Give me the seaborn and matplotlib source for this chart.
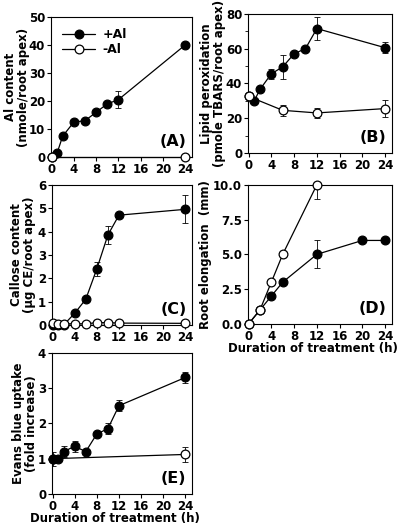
import numpy as np
import pandas as pd
import matplotlib
matplotlib.use("Agg")
import matplotlib.pyplot as plt
import seaborn as sns

sns.set_style("ticks", {"axes.edgecolor": "black", "text.color": "black",
                        "axes.labelcolor": "black", "xtick.color": "black",
                        "ytick.color": "black"})
plt.rcParams['font.family'] = ['DejaVu Sans']
plt.rcParams['font.weight'] = 'bold'

# Panel A - Al content
a_plus_h = [0, 1, 2, 4, 6, 8, 10, 12, 24]
a_plus_y = [0, 1.5, 7.5, 12.5, 13, 16, 19, 20.5, 40]
a_plus_err = [0, 0, 0, 0, 0, 0, 0, 3, 0]
a_minus_h = [0, 24]
a_minus_y = [0, 0]
a_minus_err = [0, 0]

# Panel B - lipid peroxidation
b_plus_h = [0, 1, 2, 4, 6, 8, 10, 12, 24]
b_plus_y = [32.5, 30, 36.5, 45.5, 49.5, 57, 60, 71.5, 60.5]
b_plus_err = [0, 0, 0, 3, 7, 0, 0, 6.5, 3]
b_minus_h = [0, 6, 12, 24]
b_minus_y = [32.5, 24.5, 23, 25.5]
b_minus_err = [0, 3, 3, 5]

# Panel C - callose content
c_plus_h = [0, 1, 2, 4, 6, 8, 10, 12, 24]
c_plus_y = [0, 0, 0, 0.5, 1.1, 2.4, 3.85, 4.7, 4.95]
c_plus_err = [0, 0, 0, 0, 0, 0.3, 0.4, 0, 0.6]
c_minus_h = [0, 1, 2, 4, 6, 8, 10, 12, 24]
c_minus_y = [0.08, 0.05, 0.05, 0.05, 0.05, 0.1, 0.1, 0.08, 0.07]
c_minus_err = [0, 0, 0, 0, 0, 0, 0, 0, 0]

# Panel D - root elongation
d_plus_h = [0, 2, 4, 6, 12, 20, 24]
d_plus_y = [0, 1, 2, 3, 5, 6, 6]
d_plus_err = [0, 0, 0, 0, 1, 0, 0]
d_minus_h = [0, 2, 4, 6, 12]
d_minus_y = [0, 1, 3, 5, 10]
d_minus_err = [0, 0, 0, 0, 1]

# Panel E - Evans blue uptake
e_plus_h = [0, 1, 2, 4, 6, 8, 10, 12, 24]
e_plus_y = [1, 1, 1.2, 1.35, 1.2, 1.7, 1.85, 2.5, 3.3]
e_plus_err = [0.2, 0, 0.15, 0.15, 0.05, 0, 0.15, 0.15, 0.15]
e_minus_h = [0, 24]
e_minus_y = [1, 1.12]
e_minus_err = [0, 0.2]

xticks = [0, 4, 8, 12, 16, 20, 24]
FS = 8.5


def draw(ax, h, y, err, filled, label, z):
    df = pd.DataFrame({"h": h, "y": y})
    sns.lineplot(data=df, x="h", y="y", ax=ax, color="black", lw=0.9,
                 marker="o", markersize=6.3, markeredgecolor="black",
                 markeredgewidth=0.9,
                 markerfacecolor="black" if filled else "white",
                 label=label, clip_on=False, zorder=z)
    yerr = np.array(err)
    m = yerr > 0
    if m.any():
        ax.errorbar(np.array(h)[m], np.array(y)[m], yerr=yerr[m], fmt="none",
                    ecolor="black", elinewidth=0.6, capsize=2, capthick=0.6,
                    zorder=2)


def style(ax, ylim, yticks, ylabel, tag, ylx, ytl=None, xlabel=None):
    ax.set_xlim(-0.1, 25.2)
    ax.set_ylim(*ylim)
    ax.set_xticks(xticks)
    ax.set_yticks(yticks)
    if ytl is not None:
        ax.set_yticklabels(ytl)
    ax.tick_params(labelsize=FS, width=0.8, length=3, direction="out", pad=1.2)
    for lab in ax.get_xticklabels() + ax.get_yticklabels():
        lab.set_fontweight("bold")
    for s in ax.spines.values():
        s.set_linewidth(0.8)
    ax.set_ylabel(ylabel, fontsize=FS, fontweight="bold", linespacing=0.95)
    ax.yaxis.set_label_coords(ylx, 0.5)
    ax.set_xlabel(xlabel if xlabel else "", fontsize=FS, fontweight="bold",
                  labelpad=3)
    if xlabel:
        ax.xaxis.set_label_coords(0.45, -0.13)
    ax.text(0.96, 0.06, tag, transform=ax.transAxes, ha="right", va="bottom",
            fontsize=11.5, fontweight="bold")


fig = plt.figure(figsize=(4.0, 5.31), dpi=100)
axA = fig.add_axes([0.1275, 0.704, 0.352, 0.264])
axB = fig.add_axes([0.62, 0.712, 0.36, 0.262])
axC = fig.add_axes([0.13, 0.388, 0.35, 0.264])
axD = fig.add_axes([0.62, 0.39, 0.36, 0.262])
axE = fig.add_axes([0.13, 0.0697, 0.35, 0.266])

draw(axA, a_plus_h, a_plus_y, a_plus_err, True, "+Al", 4)
draw(axA, a_minus_h, a_minus_y, a_minus_err, False, "-Al", 5)
style(axA, (0, 50), [0, 10, 20, 30, 40, 50], "Al content\n(nmole/root apex)",
      "(A)", -0.15)
leg = axA.legend(loc="upper left", frameon=False, fontsize=FS + 0.5,
                 handlelength=2.6, borderaxespad=0.5, labelspacing=0.15,
                 handletextpad=0.6)
for t in leg.get_texts():
    t.set_fontweight("bold")

draw(axB, b_minus_h, b_minus_y, b_minus_err, False, None, 5)
draw(axB, b_plus_h, b_plus_y, b_plus_err, True, None, 4)
style(axB, (0, 80), [0, 20, 40, 60, 80],
      "Lipid peroxidation\n(pmole TBARS/root apex)", "(B)", -0.155)
axB.set_yticks([10, 30, 50, 70], minor=True)
axB.tick_params(which="minor", length=2, width=0.6)

draw(axC, c_plus_h, c_plus_y, c_plus_err, True, None, 4)
draw(axC, c_minus_h, c_minus_y, c_minus_err, False, None, 5)
style(axC, (0, 6), [0, 1, 2, 3, 4, 5, 6],
      "Callose content\n(\u03bcg CE/root apex)", "(C)", -0.115)

draw(axD, d_plus_h, d_plus_y, d_plus_err, True, None, 4)
draw(axD, d_minus_h, d_minus_y, d_minus_err, False, None, 5)
style(axD, (0, 10), [0, 2.5, 5, 7.5, 10], "Root elongation  (mm)", "(D)",
      -0.25, ytl=["0.0", "2.5", "5.0", "7.5", "10.0"],
      xlabel="Duration of treatment (h)")

draw(axE, e_minus_h, e_minus_y, e_minus_err, False, None, 4)
draw(axE, e_plus_h, e_plus_y, e_plus_err, True, None, 5)
style(axE, (0, 4), [0, 1, 2, 3, 4],
      "Evans blue uptake\n(fold increase)", "(E)", -0.1,
      xlabel="Duration of treatment (h)")

for ax in [axB, axC, axD, axE]:
    if ax.get_legend() is not None:
        ax.get_legend().remove()

fig.savefig("out.png", dpi=100)
